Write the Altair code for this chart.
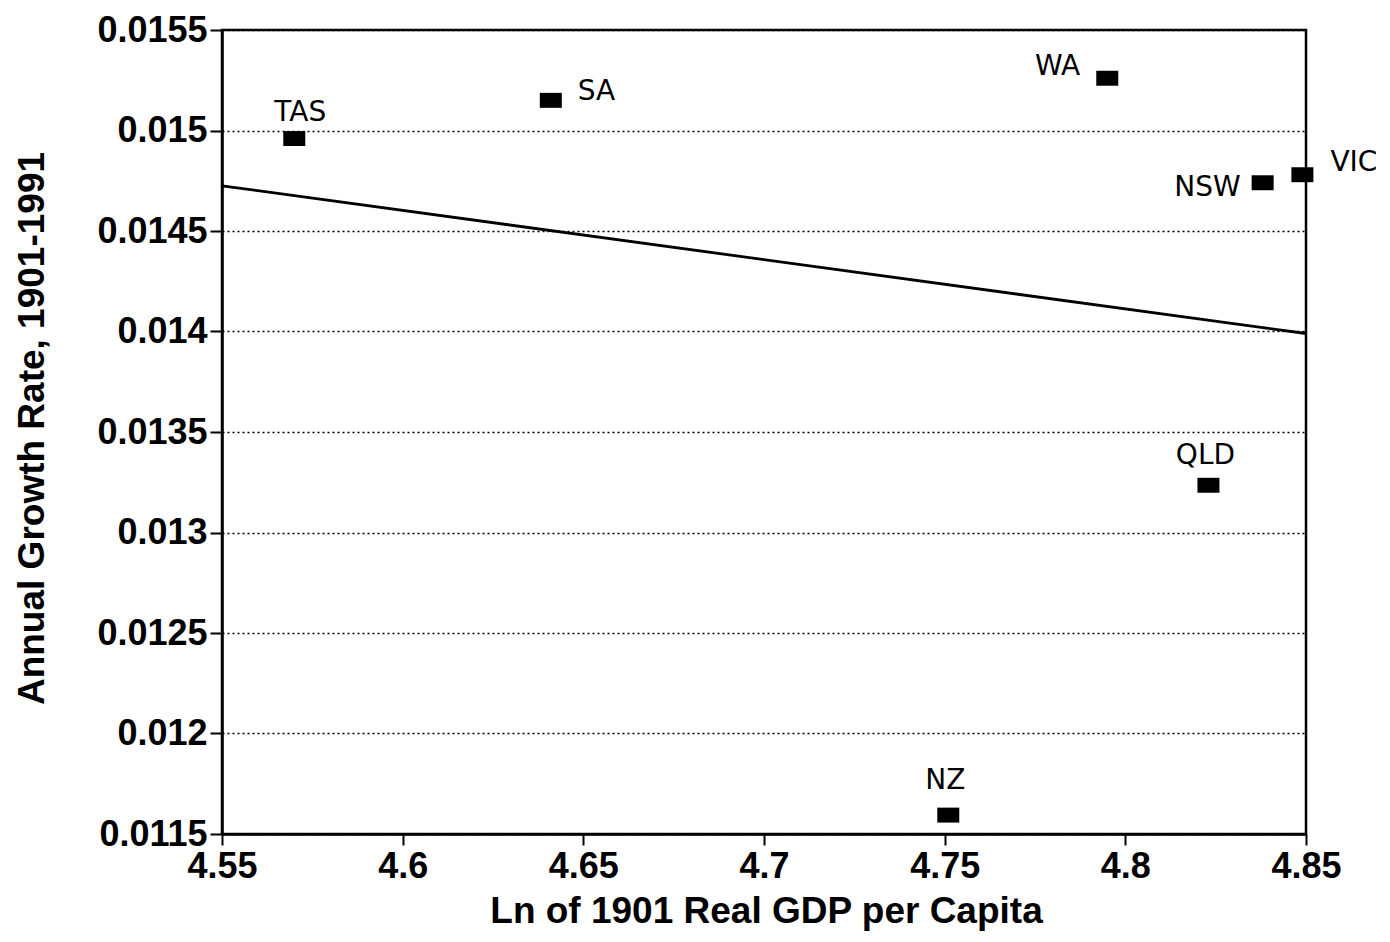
import altair as alt
import pandas as pd

# ---- data ----
regions = ["TAS", "SA", "WA", "NSW", "VIC", "QLD", "NZ"]
ln_gdp_1901 = [4.570, 4.641, 4.795, 4.838, 4.849, 4.823, 4.751]
growth_rate = [0.01496, 0.01515, 0.01526, 0.01474, 0.01478, 0.013235, 0.011594]

fit_x = [4.55, 4.85]
fit_y = [0.014725, 0.01399]

x_ticks = [4.55, 4.6, 4.65, 4.7, 4.75, 4.8, 4.85]
y_ticks = [0.0115, 0.012, 0.0125, 0.013, 0.0135, 0.014, 0.0145, 0.015, 0.0155]

pts = pd.DataFrame({"region": regions, "x": ln_gdp_1901, "y": growth_rate})
fit = pd.DataFrame({"x": fit_x, "y": fit_y})

FONT = "Liberation Sans"
HAND = "DejaVu Sans"
W, H = 1084, 804

xscale = alt.Scale(domain=[4.55, 4.85], nice=False, zero=False)
yscale = alt.Scale(domain=[0.0115, 0.0155], nice=False, zero=False)

x_enc = alt.X(
    "x:Q", scale=xscale,
    axis=alt.Axis(
        values=x_ticks, format=".2~f", grid=False,
        title="Ln of 1901 Real GDP per Capita",
        titleFont=FONT, titleFontSize=37, titleFontWeight="bold",
        titleColor="black", titleX=544, titleY=88,
        titleBaseline="alphabetic", titleAlign="center",
        labelFont=FONT, labelFontSize=36, labelFontWeight="bold",
        labelColor="black", labelPadding=4, labelFlush=False,
        domainColor="black", domainWidth=2.5,
        tickColor="black", tickWidth=2, tickSize=11,
    ),
)
y_enc = alt.Y(
    "y:Q", scale=yscale,
    axis=alt.Axis(
        values=y_ticks, format=".4~f", grid=True,
        gridColor="black", gridDash=[2, 3], gridWidth=1.5, gridOpacity=1,
        title="Annual Growth Rate, 1901-1991",
        titleFont=FONT, titleFontSize=37, titleFontWeight="bold",
        titleColor="black", titleX=-190, titleY=398, titleAngle=270,
        titleAlign="center", titleBaseline="middle",
        labelFont=FONT, labelFontSize=36, labelFontWeight="bold",
        labelColor="black", labelPadding=3, labelFlush=False,
        domainColor="black", domainWidth=2.5,
        tickColor="black", tickWidth=2, tickSize=12,
    ),
)

points = alt.Chart(pts).mark_point(
    shape="M-1,-0.68H1V0.68H-1Z", size=484, filled=True,
    color="black", opacity=1, strokeWidth=0,
).encode(x=x_enc, y=y_enc)

line = alt.Chart(fit).mark_line(color="black", strokeWidth=2.8).encode(
    x=alt.X("x:Q", scale=xscale), y=alt.Y("y:Q", scale=yscale)
)

frame = alt.Chart(pts).mark_rect(
    fill=None, fillOpacity=0, stroke="black", strokeWidth=2.5
).encode(
    x=alt.value(0), x2=alt.value(W), y=alt.value(0), y2=alt.value(H)
).transform_filter(alt.datum.region == "TAS")

label_style = {
    "TAS": dict(align="center", baseline="alphabetic", dx=6, dy=-18),
    "SA": dict(align="left", baseline="middle", dx=27, dy=-8),
    "WA": dict(align="right", baseline="middle", dx=-27, dy=-11),
    "NSW": dict(align="right", baseline="middle", dx=-22, dy=5),
    "VIC": dict(align="left", baseline="middle", dx=28, dy=-12),
    "QLD": dict(align="center", baseline="alphabetic", dx=-3, dy=-21),
    "NZ": dict(align="center", baseline="alphabetic", dx=-3, dy=-26),
}

label_layers = []
for r in regions:
    st = label_style[r]
    label_layers.append(
        alt.Chart(pts).transform_filter(alt.datum.region == r).mark_text(
            font=HAND, fontSize=28, color="black", **st
        ).encode(
            x=alt.X("x:Q", scale=xscale),
            y=alt.Y("y:Q", scale=yscale),
            text="region:N",
        )
    )

chart = alt.layer(line, points, frame, *label_layers).properties(
    width=W, height=H,
    autosize=alt.AutoSizeParams(type="none"),
    padding={"left": 214, "top": 22, "right": 70, "bottom": 110},
).configure_view(
    stroke="black", strokeWidth=2.5
).configure(background="white")

chart.save("out.html", embed_options={"renderer": "svg", "actions": False})
